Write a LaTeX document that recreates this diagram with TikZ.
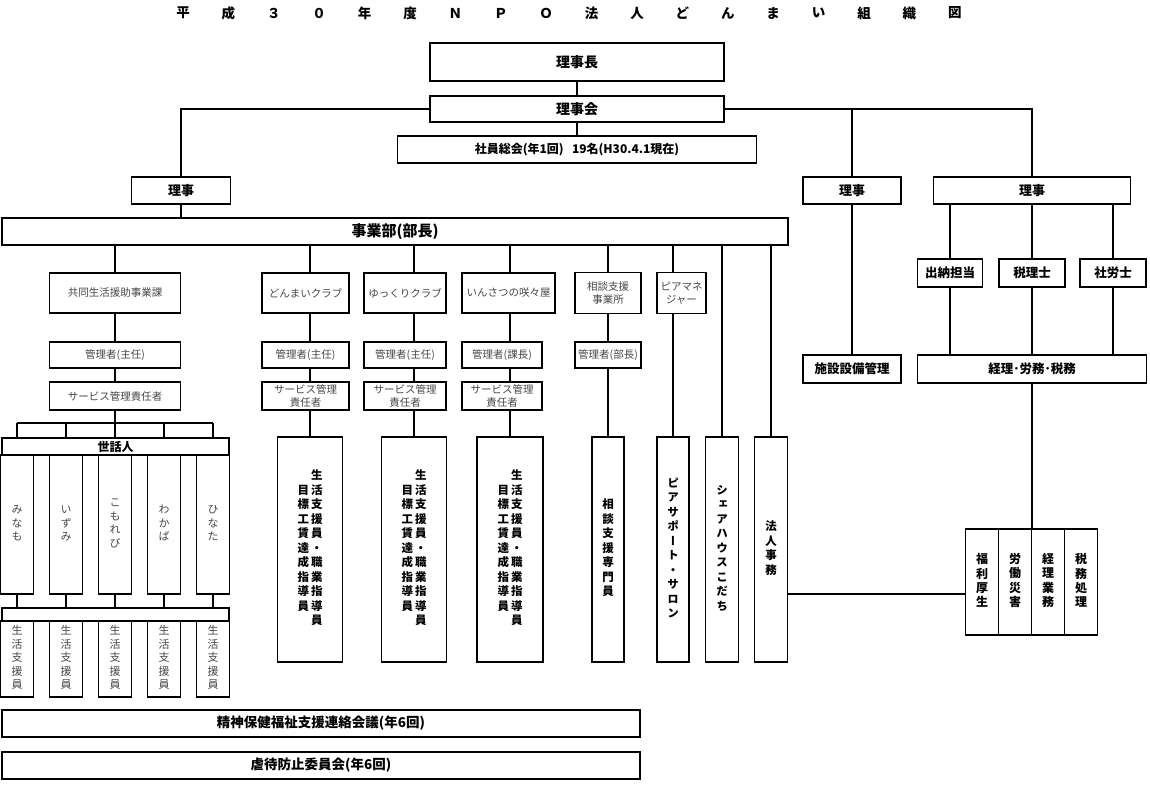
\documentclass[tikz,border=0pt]{standalone}
\usepackage{fontspec}
\newfontfamily\jp{Noto Sans CJK JP}
\newfontfamily\jptate[RawFeature=+vert]{Noto Sans CJK JP}
\usetikzlibrary{
  positioning,
  backgrounds
}
\newcommand\tate[1]{\begin{tabular}{@{}c@{}}#1\end{tabular}}

\begin{document}
\begin{tikzpicture}[x=1pt,y=-1pt,
      box/.style={
         draw,
         line width=1.7pt,
         fill=white,
         inner sep=0pt,
         align=center,
         font=\jp\fontsize{11}{13}\selectfont
      },
      bold box/.style={box, font=\jp\bfseries\fontsize{12.5}{14}\selectfont},
      thin box/.style={box, text=black!72, font=\jp\fontsize{10.5}{13}\selectfont},
      name box/.style={box, text=black!72, font=\jptate\fontsize{11}{13.5}\selectfont},
      tall box/.style={box, font=\jptate\bfseries\fontsize{11.5}{14.5}\selectfont},
      title/.style={inner sep=0pt, font=\jp\bfseries\fontsize{13.5}{15}\selectfont},
      size/.style 2 args={minimum width=#1pt, minimum height=#2pt},
      line/.style={line width=1.6pt},
    ]
    \useasboundingbox (0,0) rectangle (1150,785);

    \foreach \c [count=\i] in {平,成,３,０,年,度,Ｎ,Ｐ,Ｏ,法,人,ど,ん,ま,い,組,織,図}
       \node (t\i) [title] at ({183+45.4*(\i-1)},13) {\c};

    \node (rijicho) [bold box, size={294}{38}, font=\jp\bfseries\fontsize{14}{16}\selectfont] at (577,62) {理事長};
    \node (rijikai) [bold box, size={294}{26}, font=\jp\bfseries\fontsize{14}{16}\selectfont] at (577,109) {理事会};
    \node (sosokai) [bold box, size={359}{27}, font=\jp\bfseries\fontsize{12}{14}\selectfont] at (577,149.5) {社員総会(年1回)\ \ \ 19名(H30.4.1現在)};
    \node (rijiL) [bold box, size={99}{27}, font=\jp\bfseries\fontsize{13}{15}\selectfont] at (181,190.5) {理事};
    \node (rijiM) [bold box, size={98}{27}, font=\jp\bfseries\fontsize{13}{15}\selectfont] at (852,190.5) {理事};
    \node (rijiR) [bold box, size={197}{27}, font=\jp\bfseries\fontsize{13}{15}\selectfont] at (1032,190.5) {理事};
    \node (jigyo) [bold box, size={786}{27}, font=\jp\bfseries\fontsize{15}{17}\selectfont] at (395,231.5) {事業部(部長)};

    \node (kyodo) [thin box, size={131}{40}] at (115,293) {共同生活援助事業課};
    \node (donmai) [thin box, size={87}{40}] at (305.5,293) {どんまいクラブ};
    \node (yukkuri) [thin box, size={82}{40}] at (405,293) {ゆっくりクラブ};
    \node (insatsu) [thin box, size={93}{40}] at (508.5,293) {いんさつの咲々屋};
    \node (soudan) [thin box, size={66}{41}] at (608,293) {相談支援\\事業所};
    \node (piama) [thin box, size={49}{41}] at (681.5,293) {ピアマネ\\ジャー};

    \node (kanriK) [thin box, size={131}{26}] at (115,355) {管理者(主任)};
    \node (kanriD) [thin box, size={87}{26}] at (305.5,355) {管理者(主任)};
    \node (kanriY) [thin box, size={82}{26}] at (405,355) {管理者(主任)};
    \node (kanriI) [thin box, size={80}{26}] at (502,355) {管理者(課長)};
    \node (kanriS) [thin box, size={66}{26}] at (608,355) {管理者(部長)};

    \node (servK) [thin box, size={131}{28}] at (115,396) {サービス管理責任者};
    \node (servD) [thin box, size={87}{28}] at (305.5,396) {サービス管理\\責任者};
    \node (servY) [thin box, size={82}{28}] at (405,396) {サービス管理\\責任者};
    \node (servI) [thin box, size={80}{28}] at (502,396) {サービス管理\\責任者};

    \coordinate (bus) at (115,423);
    \node (sewanin) [bold box, size={227}{17}, font=\jp\bfseries\fontsize{12}{14}\selectfont] at (115.5,446.5) {世話人};
    \foreach \t [count=\i] in {{み\\な\\も},{い\\ず\\み},{こ\\も\\れ\\び},{わ\\か\\ば},{ひ\\な\\た}}
       \node (nm\i) [name box, size={33}{139}] at ({17+49*(\i-1)},524.5) {\tate{\t}};
    \node (band) [box, size={227}{13}] at (115.5,614.5) {};
    \foreach \i in {1,...,5}
       \node (sh\i) [name box, size={33}{76}] at ({17+49*(\i-1)},659) {\tate{生\\活\\支\\援\\員}};

    \node (stD) [tall box, size={65}{225}] at (310,549.5) {\tate{目\\標\\工\\賃\\達\\成\\指\\導\\員}\hspace{2pt}\tate{生\\活\\支\\援\\員\\・\\職\\業\\指\\導\\員}};
    \node (stY) [tall box, size={65}{225}] at (414,549.5) {\tate{目\\標\\工\\賃\\達\\成\\指\\導\\員}\hspace{2pt}\tate{生\\活\\支\\援\\員\\・\\職\\業\\指\\導\\員}};
    \node (stI) [tall box, size={66}{225}] at (510,549.5) {\tate{目\\標\\工\\賃\\達\\成\\指\\導\\員}\hspace{2pt}\tate{生\\活\\支\\援\\員\\・\\職\\業\\指\\導\\員}};
    \node (stS) [tall box, size={32}{225}] at (608,549.5) {\tate{相\\談\\支\\援\\専\\門\\員}};
    \node (stP) [tall box, size={32}{225}] at (673,549.5) {\tate{ピ\\ア\\サ\\ポ\\ー\\ト\\・\\サ\\ロ\\ン}};
    \node (stH) [tall box, size={33}{225}] at (722,549.5) {\tate{シ\\ェ\\ア\\ハ\\ウ\\ス\\こ\\だ\\ち}};
    \node (stJ) [tall box, size={33}{225}] at (771,549.5) {\tate{法\\人\\事\\務}};

    \node (shisetsu) [bold box, size={98}{28}] at (852,369) {施設設備管理};
    \node (suito) [bold box, size={65}{28}] at (950,273) {出納担当};
    \node (zeiri) [bold box, size={66}{28}] at (1032,273) {税理士};
    \node (sharo) [bold box, size={66}{28}] at (1113,273) {社労士};
    \node (keiri) [bold box, size={229}{28}] at (1032,369) {経理･労務･税務};
    \foreach \t [count=\i] in {{福\\利\\厚\\生},{労\\働\\災\\害},{経\\理\\業\\務},{税\\務\\処\\理}}
       \node (ac\i) [tall box, size={33}{106}, font=\jptate\bfseries\fontsize{12}{13.5}\selectfont] at ({982+33*(\i-1)},582) {\tate{\t}};

    \node (seishin) [bold box, size={638}{27}, font=\jp\bfseries\fontsize{13.5}{15}\selectfont] at (321,723.5) {精神保健福祉支援連絡会議(年6回)};
    \node (gyakutai) [bold box, size={638}{27}, font=\jp\bfseries\fontsize{13.5}{15}\selectfont] at (321,765.5) {虐待防止委員会(年6回)};

    \begin{scope}[on background layer]
    \begin{scope}[line]
       \draw (rijicho) -- (rijicho |- sosokai);
       \draw (rijiL) |- (rijikai);
       \draw (rijikai) -| (rijiR);
       \draw (rijikai -| rijiM) -- (shisetsu);
       \draw (rijiL) -- (rijiL |- jigyo);
       \draw (jigyo -| kyodo) -- (servK);
       \draw (servK) -- (bus);
       \draw (nm1 |- bus) -- (nm5 |- bus);
       \foreach \i in {1,...,5}
          \draw (nm\i |- bus) -- (sh\i);
       \foreach \s in {stD,stY,stI,stS,stP,stH,stJ}
          \draw (jigyo -| \s) -- (\s);
       \foreach \s in {suito,zeiri,sharo}
          \draw (rijiR -| \s) -- (keiri -| \s);
       \draw (keiri) -- (keiri |- ac2.north);
       \draw ([yshift=-44.5pt]stJ.east) -- ([yshift=-44.5pt]stJ.east -| ac1.west);
    \end{scope}
    \end{scope}
\end{tikzpicture}
\end{document}
